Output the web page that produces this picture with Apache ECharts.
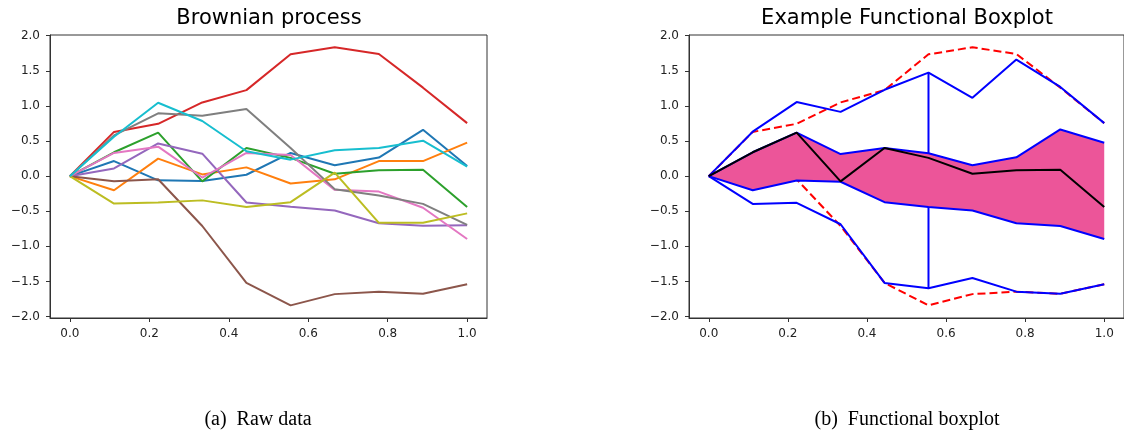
<!DOCTYPE html>
<html>
<head>
<meta charset="utf-8">
<script src="https://cdn.jsdelivr.net/npm/echarts@6/dist/echarts.min.js"></script>
<style>
  html, body { margin: 0; padding: 0; background: #fff; }
  #chart { width: 1124px; height: 432px; }
</style>
</head>
<body>
<div id="chart"></div>
<script>
// Sample times on [0, 1]
const times = [0, 0.1111, 0.2222, 0.3333, 0.4444, 0.5556, 0.6667, 0.7778, 0.8889, 1.0];
const xTicks = [0, 0.2, 0.4, 0.6, 0.8, 1.0];
const yTicks = [-2.0, -1.5, -1.0, -0.5, 0.0, 0.5, 1.0, 1.5, 2.0];

// Ten Brownian paths
const pathBlue   = [0, 0.215, -0.06, -0.07, 0.02, 0.33, 0.155, 0.265, 0.66, 0.145];
const pathOrange = [0, -0.20, 0.25, 0.025, 0.125, -0.105, -0.045, 0.215, 0.215, 0.478];
const pathGreen  = [0, 0.34, 0.62, -0.075, 0.40, 0.26, 0.035, 0.085, 0.09, -0.44];
const pathRed    = [0, 0.63, 0.745, 1.05, 1.225, 1.735, 1.835, 1.74, 1.26, 0.755];
const pathPurple = [0, 0.11, 0.465, 0.32, -0.375, -0.435, -0.49, -0.67, -0.705, -0.70];
const pathBrown  = [0, -0.073, -0.045, -0.71, -1.52, -1.84, -1.68, -1.645, -1.675, -1.54];
const pathPink   = [0, 0.33, 0.42, -0.02, 0.33, 0.30, -0.195, -0.22, -0.45, -0.895];
const pathGray   = [0, 0.58, 0.895, 0.86, 0.955, 0.40, -0.185, -0.275, -0.395, -0.695];
const pathOlive  = [0, -0.39, -0.375, -0.345, -0.44, -0.37, 0.05, -0.665, -0.665, -0.53];
const pathCyan   = [0, 0.56, 1.045, 0.785, 0.355, 0.235, 0.37, 0.40, 0.505, 0.135];

// Functional boxplot summaries
const envelopeUpper = [0, 0.34, 0.62, 0.315, 0.40, 0.325, 0.155, 0.268, 0.665, 0.476];
const envelopeLower = [0, -0.20, -0.062, -0.08, -0.37, -0.44, -0.49, -0.67, -0.71, -0.895];
const whiskerUpper  = [0, 0.633, 1.055, 0.915, 1.23, 1.475, 1.115, 1.66, 1.27, 0.755];
const whiskerLower  = [0, -0.395, -0.38, -0.685, -1.52, -1.595, -1.45, -1.645, -1.675, -1.54];
const medianCurve = pathGreen;
const outlierCurves = [pathRed, pathBrown];
const whiskerIndex = 5;

const rawPaths = [
  { data: pathBlue, color: '#1f77b4' },
  { data: pathOrange, color: '#ff7f0e' },
  { data: pathGreen, color: '#2ca02c' },
  { data: pathRed, color: '#d62728' },
  { data: pathPurple, color: '#9467bd' },
  { data: pathBrown, color: '#8c564b' },
  { data: pathPink, color: '#e377c2' },
  { data: pathGray, color: '#7f7f7f' },
  { data: pathOlive, color: '#bcbd22' },
  { data: pathCyan, color: '#17becf' }
];

const pairs = (ys) => times.map((t, i) => [t, ys[i]]);
const fmtNum = (v) => (v < 0 ? '\u2212' + Math.abs(v).toFixed(1) : v.toFixed(1));

const labelStyle = { color: '#222', fontSize: 12, fontFamily: 'DejaVu Sans' };

function makeX(gridIndex) {
  return {
    type: 'value', gridIndex, min: -0.05, max: 1.05,
    splitLine: { show: false },
    axisLine: { show: true, onZero: false, lineStyle: { color: '#333', width: 1 } },
    axisTick: { show: true, length: 4, customValues: xTicks, lineStyle: { color: '#333' } },
    axisLabel: { ...labelStyle, margin: 10, customValues: xTicks, formatter: fmtNum }
  };
}
function makeY(gridIndex) {
  return {
    type: 'value', gridIndex, min: -2.02, max: 2.01,
    splitLine: { show: false },
    axisLine: { show: true, onZero: false, lineStyle: { color: '#333', width: 1 } },
    axisTick: { show: true, length: 4, customValues: yTicks, lineStyle: { color: '#333' } },
    axisLabel: { ...labelStyle, margin: 10, customValues: yTicks, formatter: fmtNum }
  };
}

const series = [];

// Left panel: raw paths
rawPaths.forEach((p) => {
  series.push({
    type: 'line', xAxisIndex: 0, yAxisIndex: 0, data: pairs(p.data),
    symbol: 'none', silent: true,
    lineStyle: { color: p.color, width: 2 }
  });
});

// Right panel: outliers (dashed, underneath)
outlierCurves.forEach((c) => {
  series.push({
    type: 'line', xAxisIndex: 1, yAxisIndex: 1, data: pairs(c),
    symbol: 'none', silent: true, z: 2,
    lineStyle: { color: '#ff0000', width: 2, type: [8, 4] }
  });
});

// Central region: polygon between envelope bounds
series.push({
  type: 'custom', xAxisIndex: 1, yAxisIndex: 1, silent: true, z: 3,
  data: [[times[0], envelopeLower[0]]],
  renderItem: (params, api) => {
    const top = times.map((t, i) => api.coord([t, envelopeUpper[i]]));
    const bottom = times.map((t, i) => api.coord([t, envelopeLower[i]])).reverse();
    return {
      type: 'polygon',
      shape: { points: top.concat(bottom) },
      style: { fill: '#ec5599', stroke: null }
    };
  }
});

// Envelope bounds and whiskers
[envelopeUpper, envelopeLower, whiskerUpper, whiskerLower].forEach((c) => {
  series.push({
    type: 'line', xAxisIndex: 1, yAxisIndex: 1, data: pairs(c),
    symbol: 'none', silent: true, z: 4,
    lineStyle: { color: '#0000ff', width: 2 }
  });
});
// Vertical whisker connectors
[[envelopeUpper, whiskerUpper], [envelopeLower, whiskerLower]].forEach(([a, b]) => {
  series.push({
    type: 'line', xAxisIndex: 1, yAxisIndex: 1,
    data: [[times[whiskerIndex], a[whiskerIndex]], [times[whiskerIndex], b[whiskerIndex]]],
    symbol: 'none', silent: true, z: 4,
    lineStyle: { color: '#0000ff', width: 2 }
  });
});

// Median curve
series.push({
  type: 'line', xAxisIndex: 1, yAxisIndex: 1, data: pairs(medianCurve),
  symbol: 'none', silent: true, z: 5,
  lineStyle: { color: '#000000', width: 2 }
});

const chart = echarts.init(document.getElementById('chart'), null, { renderer: 'canvas' });
chart.setOption({
  animation: false,
  backgroundColor: '#ffffff',
  grid: [
    { left: 50, top: 35, width: 437, height: 283, show: true, borderColor: '#333', borderWidth: 1, backgroundColor: 'transparent' },
    { left: 689, top: 35, width: 437, height: 283, show: true, borderColor: '#333', borderWidth: 1, backgroundColor: 'transparent' }
  ],
  xAxis: [makeX(0), makeX(1)],
  yAxis: [makeY(0), makeY(1)],
  series,
  graphic: [
    { type: 'text', x: 269, y: 19, style: { text: 'Brownian process', align: 'center', verticalAlign: 'middle', font: '21px "DejaVu Sans"', fill: '#000' } },
    { type: 'text', x: 907, y: 19, style: { text: 'Example Functional Boxplot', align: 'center', verticalAlign: 'middle', font: '21px "DejaVu Sans"', fill: '#000' } },
    { type: 'text', x: 258, y: 420, style: { text: '(a)  Raw data', align: 'center', verticalAlign: 'middle', font: '20px "Liberation Serif"', fill: '#000' } },
    { type: 'text', x: 907, y: 420, style: { text: '(b)  Functional boxplot', align: 'center', verticalAlign: 'middle', font: '20px "Liberation Serif"', fill: '#000' } }
  ]
});
</script>
</body>
</html>
